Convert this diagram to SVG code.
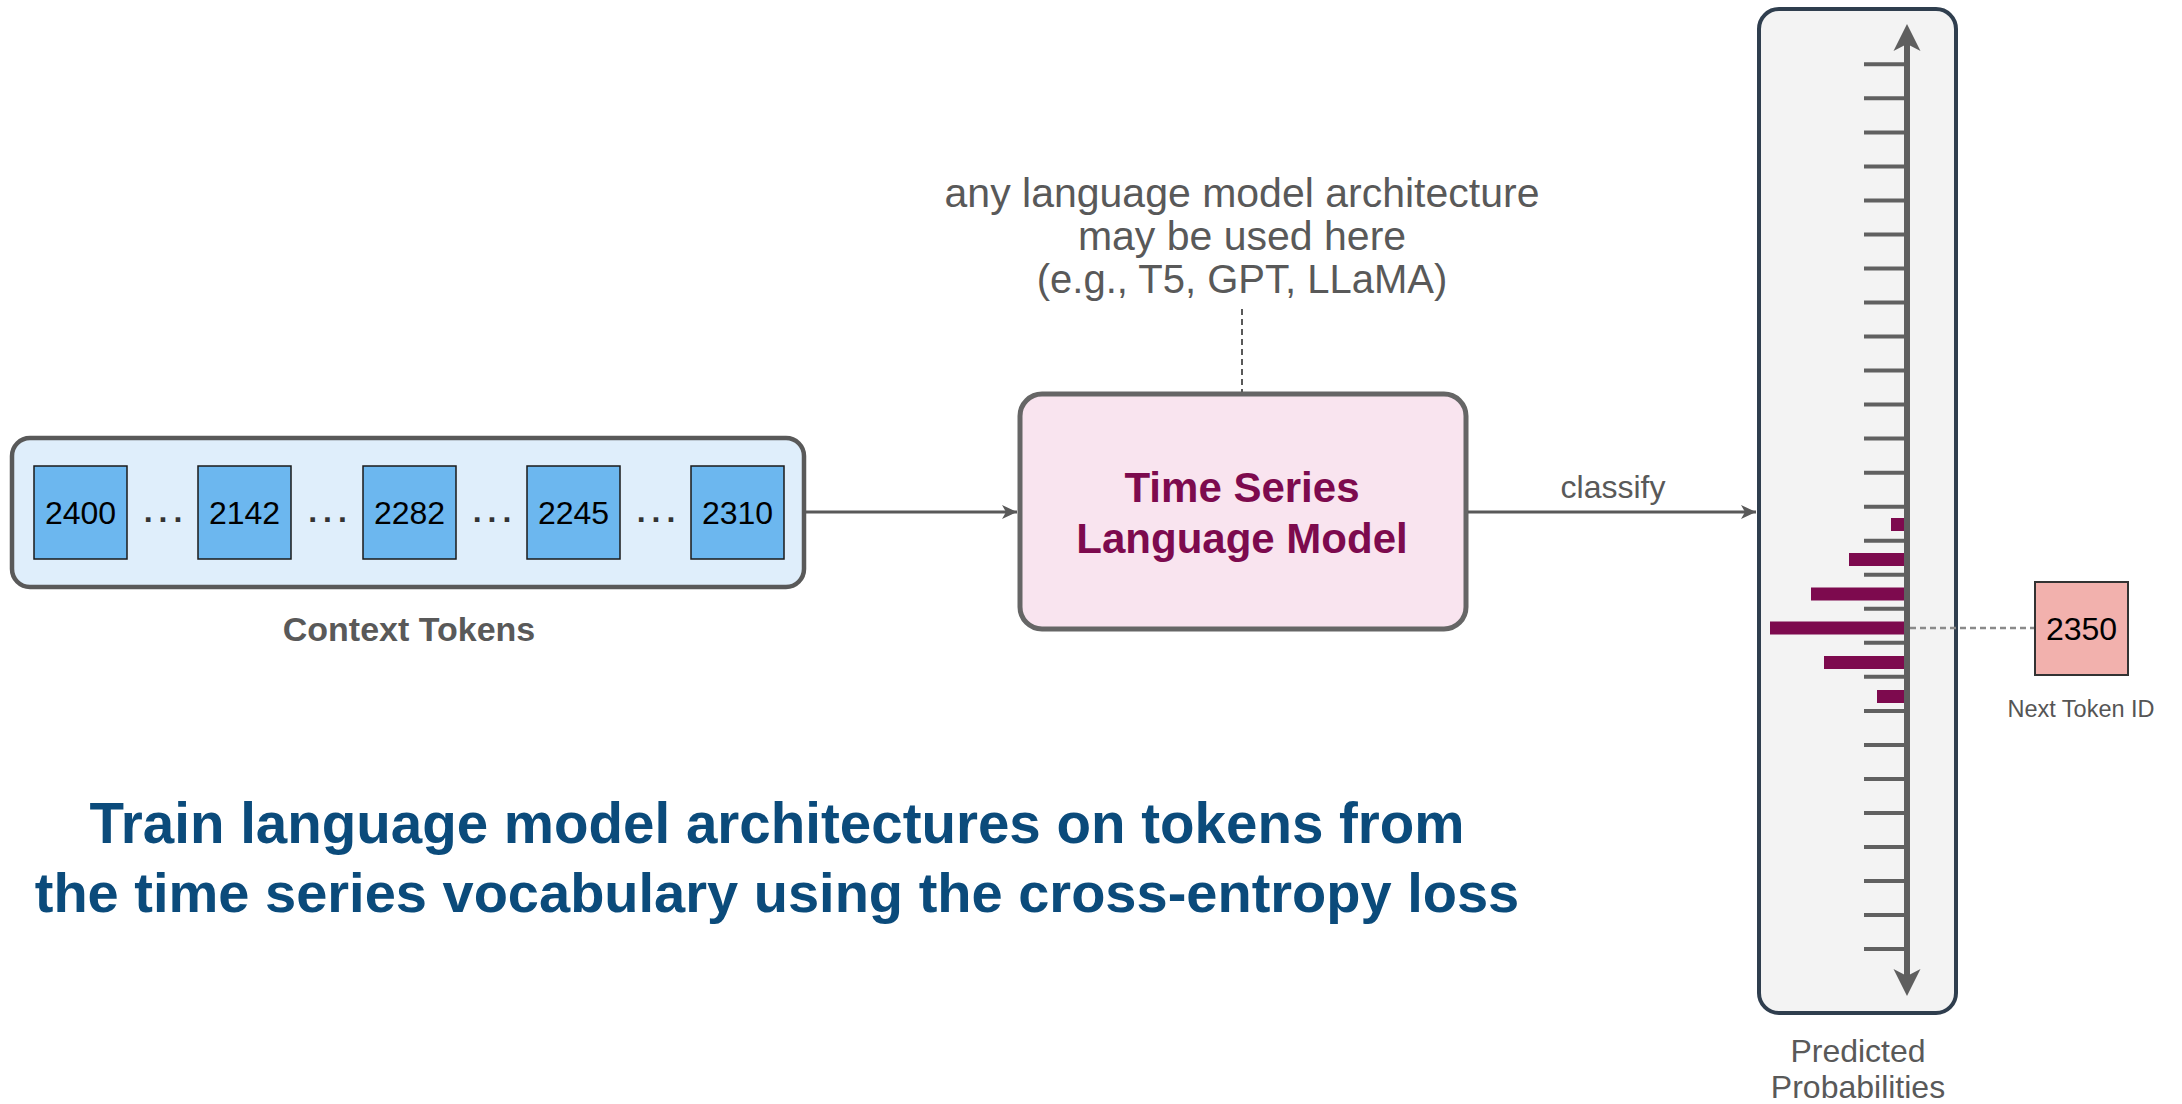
<svg xmlns="http://www.w3.org/2000/svg" width="2182" height="1104" viewBox="0 0 2182 1104">
  <style>
    text { font-family: "Liberation Sans", Arial, sans-serif; }
    .token { fill: #6cb7ef; stroke: #1a1a1a; stroke-width: 1.5; }
    .token-label { font-size: 32px; fill: #000; text-anchor: middle; }
    .dots { font-size: 32px; font-weight: bold; fill: #333; text-anchor: middle; letter-spacing: 6px; }
    .caption { fill: #595959; text-anchor: middle; }
    .conn { stroke: #595959; stroke-width: 3; fill: none; }
    .tick { stroke: #606060; stroke-width: 4; }
    .bar { fill: #7d0a4e; }
  </style>
  <defs>
    <marker id="arrow" markerUnits="userSpaceOnUse" viewBox="-16 -8 17 16" markerWidth="17" markerHeight="16" refX="0" refY="0" orient="auto">
      <path d="M0,0 L-15,-7 L-11,0 L-15,7 Z" fill="#595959"/>
    </marker>
    <marker id="axisHead" markerUnits="userSpaceOnUse" viewBox="-28 -14 29 28" markerWidth="29" markerHeight="28" refX="-16" refY="0" orient="auto-start-reverse">
      <path d="M0,0 L-27,-13.5 L-20,0 L-27,13.5 Z" fill="#5f5f5f"/>
    </marker>
  </defs>

  <!-- Context tokens -->
  <g id="context-tokens">
    <rect x="12" y="438" width="792" height="149" rx="18" fill="#dfeefb" stroke="#595959" stroke-width="4.5"/>
    <rect class="token" x="34" y="466" width="93" height="93"/>
    <text class="token-label" x="80.5" y="524">2400</text>
    <text class="dots" x="166" y="522">...</text>
    <rect class="token" x="198" y="466" width="93" height="93"/>
    <text class="token-label" x="244.5" y="524">2142</text>
    <text class="dots" x="330.5" y="522">...</text>
    <rect class="token" x="363" y="466" width="93" height="93"/>
    <text class="token-label" x="409.5" y="524">2282</text>
    <text class="dots" x="495" y="522">...</text>
    <rect class="token" x="527" y="466" width="93" height="93"/>
    <text class="token-label" x="573.5" y="524">2245</text>
    <text class="dots" x="659" y="522">...</text>
    <rect class="token" x="691" y="466" width="93" height="93"/>
    <text class="token-label" x="737.5" y="524">2310</text>
    <text class="caption" x="409" y="641" font-size="34" font-weight="bold">Context Tokens</text>
  </g>

  <!-- Model note -->
  <g id="model-note">
    <text class="caption" x="1242" y="207" font-size="41">any language model architecture</text>
    <text class="caption" x="1242" y="250" font-size="41">may be used here</text>
    <text class="caption" x="1242" y="293" font-size="40">(e.g., T5, GPT, LLaMA)</text>
  </g>

  <!-- Time series language model -->
  <g id="language-model">
    <rect x="1020" y="394" width="446" height="235" rx="22" fill="#f9e4ef" stroke="#666" stroke-width="5"/>
    <text x="1242" y="502" font-size="42" font-weight="bold" fill="#7d0a4e" text-anchor="middle">Time Series</text>
    <text x="1242" y="553" font-size="42" font-weight="bold" fill="#7d0a4e" text-anchor="middle">Language Model</text>
  </g>

  <!-- Predicted probabilities panel -->
  <g id="predicted-probabilities">
    <rect x="1759" y="9" width="197" height="1004" rx="20" fill="#f3f3f3" stroke="#2f3e4e" stroke-width="4"/>
    <g>
      <line class="tick" x1="1864" y1="64.3" x2="1907" y2="64.3"/>
      <line class="tick" x1="1864" y1="98.3" x2="1907" y2="98.3"/>
      <line class="tick" x1="1864" y1="132.4" x2="1907" y2="132.4"/>
      <line class="tick" x1="1864" y1="166.4" x2="1907" y2="166.4"/>
      <line class="tick" x1="1864" y1="200.4" x2="1907" y2="200.4"/>
      <line class="tick" x1="1864" y1="234.5" x2="1907" y2="234.5"/>
      <line class="tick" x1="1864" y1="268.5" x2="1907" y2="268.5"/>
      <line class="tick" x1="1864" y1="302.5" x2="1907" y2="302.5"/>
      <line class="tick" x1="1864" y1="336.5" x2="1907" y2="336.5"/>
      <line class="tick" x1="1864" y1="370.6" x2="1907" y2="370.6"/>
      <line class="tick" x1="1864" y1="404.6" x2="1907" y2="404.6"/>
      <line class="tick" x1="1864" y1="438.6" x2="1907" y2="438.6"/>
      <line class="tick" x1="1864" y1="472.7" x2="1907" y2="472.7"/>
      <line class="tick" x1="1864" y1="506.7" x2="1907" y2="506.7"/>
      <line class="tick" x1="1864" y1="540.7" x2="1907" y2="540.7"/>
      <line class="tick" x1="1864" y1="574.8" x2="1907" y2="574.8"/>
      <line class="tick" x1="1864" y1="608.8" x2="1907" y2="608.8"/>
      <line class="tick" x1="1864" y1="642.8" x2="1907" y2="642.8"/>
      <line class="tick" x1="1864" y1="676.8" x2="1907" y2="676.8"/>
      <line class="tick" x1="1864" y1="710.9" x2="1907" y2="710.9"/>
      <line class="tick" x1="1864" y1="744.9" x2="1907" y2="744.9"/>
      <line class="tick" x1="1864" y1="778.9" x2="1907" y2="778.9"/>
      <line class="tick" x1="1864" y1="813.0" x2="1907" y2="813.0"/>
      <line class="tick" x1="1864" y1="847.0" x2="1907" y2="847.0"/>
      <line class="tick" x1="1864" y1="881.0" x2="1907" y2="881.0"/>
      <line class="tick" x1="1864" y1="915.1" x2="1907" y2="915.1"/>
      <line class="tick" x1="1864" y1="949.1" x2="1907" y2="949.1"/>
    </g>
    <g>
      <rect class="bar" x="1891" y="518" width="16" height="13"/>
      <rect class="bar" x="1849" y="553" width="58" height="13"/>
      <rect class="bar" x="1811" y="587.5" width="96" height="13"/>
      <rect class="bar" x="1770" y="621.5" width="137" height="13"/>
      <rect class="bar" x="1824" y="656" width="83" height="13"/>
      <rect class="bar" x="1877" y="690" width="30" height="13"/>
    </g>
    <line x1="1907" y1="980" x2="1907" y2="40" stroke="#5f5f5f" stroke-width="6" marker-start="url(#axisHead)" marker-end="url(#axisHead)"/>
    <text class="caption" x="1858" y="1062" font-size="32">Predicted</text>
    <text class="caption" x="1858" y="1098" font-size="32">Probabilities</text>
  </g>

  <!-- Next token -->
  <g id="next-token">
    <rect x="2035" y="582" width="93" height="93" fill="#f2b1ad" stroke="#333" stroke-width="2"/>
    <text class="token-label" x="2081.5" y="640">2350</text>
    <text x="2081" y="717" font-size="23.5" fill="#555" text-anchor="middle">Next Token ID</text>
  </g>

  <!-- Connectors -->
  <g id="connectors">
    <line class="conn" x1="806" y1="512" x2="1017" y2="512" marker-end="url(#arrow)"/>
    <line class="conn" x1="1468" y1="512" x2="1756" y2="512" marker-end="url(#arrow)"/>
    <text x="1613" y="498" font-size="32" fill="#595959" text-anchor="middle">classify</text>
    <line x1="1242" y1="309" x2="1242" y2="392" stroke="#595959" stroke-width="2" stroke-dasharray="6 4"/>
    <line x1="1910" y1="628" x2="2034" y2="628" stroke="#8a8a8a" stroke-width="2.5" stroke-dasharray="6 4"/>
  </g>

  <!-- Summary -->
  <g id="summary">
    <text x="777" y="843" font-size="56.5" font-weight="bold" fill="#0b4b7b" text-anchor="middle">Train language model architectures on tokens from</text>
    <text x="777" y="912" font-size="56" font-weight="bold" fill="#0b4b7b" text-anchor="middle">the time series vocabulary using the cross-entropy loss</text>
  </g>
</svg>
